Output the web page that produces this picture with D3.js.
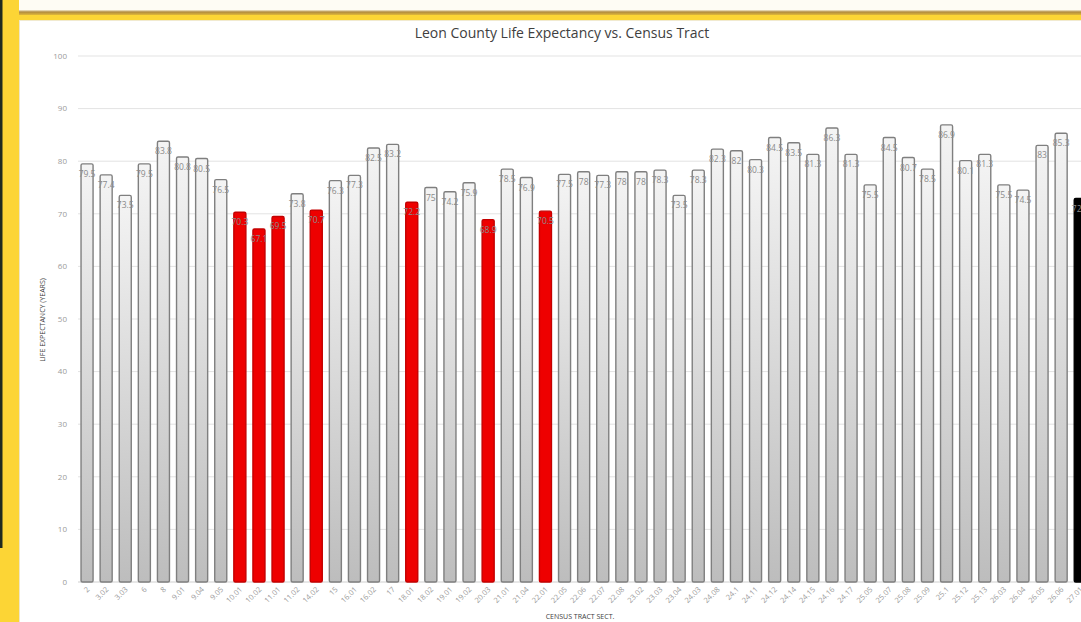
<!DOCTYPE html>
<html>
<head>
<meta charset="utf-8">
<script src="https://cdn.jsdelivr.net/npm/d3@7"></script>
<style>
  body { margin: 0; overflow: hidden; background: #fff; }
  svg { display: block; font-family: "Open Sans", sans-serif; }
</style>
</head>
<body>
<div id="canvas"></div>
<script>
const tracts = ["2","3.02","3.03","6","8","9.01","9.04","9.05","10.01","10.02","11.01","11.02","14.02","15","16.01","16.02","17","18.01","18.02","19.01","19.02","20.03","21.01","21.04","22.01","22.05","22.06","22.07","22.08","23.02","23.03","23.04","24.03","24.08","24.1","24.11","24.12","24.14","24.15","24.16","24.17","25.05","25.07","25.08","25.09","25.1","25.12","25.13","26.03","26.04","26.05","26.06","27.01"];
const lifeExpectancy = [79.5,77.4,73.5,79.5,83.8,80.8,80.5,76.5,70.3,67.1,69.5,73.8,70.7,76.3,77.3,82.5,83.2,72.2,75,74.2,75.9,68.9,78.5,76.9,70.5,77.5,78,77.3,78,78,78.3,73.5,78.3,82.3,82,80.3,84.5,83.5,81.3,86.3,81.3,75.5,84.5,80.7,78.5,86.9,80.1,81.3,75.5,74.5,83,85.3,72.9];
const lowTracts = ["10.01","10.02","11.01","14.02","18.01","20.03","22.01"];
const highlightTract = "27.01";
const yTicks = [0,10,20,30,40,50,60,70,80,90,100];

const w = 1081, h = 622;
const svg = d3.select("#canvas").append("svg").attr("width", w).attr("height", h);
const defs = svg.append("defs");

const grad = defs.append("linearGradient").attr("id","barGrad").attr("x1",0).attr("y1",0).attr("x2",0).attr("y2",1);
grad.append("stop").attr("offset","0%").attr("stop-color","#f4f4f4");
grad.append("stop").attr("offset","100%").attr("stop-color","#bdbdbd");

const frameGrad = defs.append("linearGradient").attr("id","frameGrad").attr("x1",0).attr("y1",0).attr("x2",0).attr("y2",1);
frameGrad.append("stop").attr("offset","0%").attr("stop-color","#f3ead0");
frameGrad.append("stop").attr("offset","40%").attr("stop-color","#b08a3e");
frameGrad.append("stop").attr("offset","100%").attr("stop-color","#e0b83a");

// slide frame
svg.append("rect").attr("width", w).attr("height", h).attr("fill", "#fff");
svg.append("rect").attr("width", w).attr("height", 10).attr("fill", "#fefcf4");
svg.append("rect").attr("y", 10).attr("width", w).attr("height", 5).attr("fill", "url(#frameGrad)");
svg.append("rect").attr("y", 15).attr("width", w).attr("height", 5).attr("fill", "#fcd535");
svg.append("rect").attr("y", 20).attr("width", w).attr("height", 1).attr("fill", "#f1ead0");
svg.append("rect").attr("width", 19).attr("height", h).attr("fill", "#fcd535");
svg.append("rect").attr("x", 19).attr("y", 20).attr("width", 1).attr("height", h).attr("fill", "#eee6c8");
svg.append("rect").attr("width", 2.5).attr("height", 548).attr("fill", "#1f2a1f");

const x = d3.scaleBand().domain(tracts).range([77.5, 77.5 + 19.1 * tracts.length]).paddingInner(0.37).paddingOuter(0.185);
const y = d3.scaleLinear().domain([0, 100]).range([582, 56]);

// gridlines
svg.append("g").selectAll("line").data(yTicks).join("line")
  .attr("x1", 78).attr("x2", w)
  .attr("y1", d => y(d)).attr("y2", d => y(d))
  .attr("stroke", d => d === 0 ? "#cfcfcf" : "#e3e3e3").attr("stroke-width", 1);

// y axis labels
svg.append("g").selectAll("text").data(yTicks).join("text")
  .attr("x", 67).attr("y", d => y(d)).attr("dy", "0.35em")
  .attr("text-anchor", "end").attr("font-size", 8).attr("fill", "#9a9a9a")
  .text(d => d);

// bars
const data = tracts.map((t, i) => ({ tract: t, value: lifeExpectancy[i] }));
svg.append("g").selectAll("rect").data(data).join("rect")
  .attr("x", d => x(d.tract))
  .attr("y", d => y(d.value))
  .attr("width", x.bandwidth())
  .attr("height", d => y(0) - y(d.value))
  .attr("rx", 1.5)
  .attr("fill", d => d.tract === highlightTract ? "#000" : lowTracts.includes(d.tract) ? "#ee0000" : "url(#barGrad)")
  .attr("stroke", d => d.tract === highlightTract ? "#000" : lowTracts.includes(d.tract) ? "#c40000" : "#7f7f7f")
  .attr("stroke-width", 1.4);

// value labels
svg.append("g").selectAll("text").data(data).join("text")
  .attr("x", d => x(d.tract) + x.bandwidth() / 2)
  .attr("y", d => y(d.value) + 13)
  .attr("text-anchor", "middle").attr("font-size", 8.5).attr("fill", "#8a8a8a")
  .text(d => d.value);

// x tick labels
svg.append("g").selectAll("text").data(tracts).join("text")
  .attr("transform", d => `translate(${x(d) + x.bandwidth() / 2 + 3},${590}) rotate(-45)`)
  .attr("text-anchor", "end").attr("font-size", 7.5).attr("fill", "#9a9a9a")
  .text(d => d);

// titles
svg.append("text").attr("x", 562).attr("y", 38).attr("text-anchor", "middle")
  .attr("font-size", 14).attr("fill", "#404040").text("Leon County Life Expectancy vs. Census Tract");
svg.append("text").attr("transform", "translate(45,320) rotate(-90)").attr("text-anchor", "middle")
  .attr("font-size", 7).attr("fill", "#404040").text("LIFE EXPECTANCY (YEARS)");
svg.append("text").attr("x", 580).attr("y", 619).attr("text-anchor", "middle")
  .attr("font-size", 7).attr("fill", "#404040").text("CENSUS TRACT SECT.");
</script>
</body>
</html>
